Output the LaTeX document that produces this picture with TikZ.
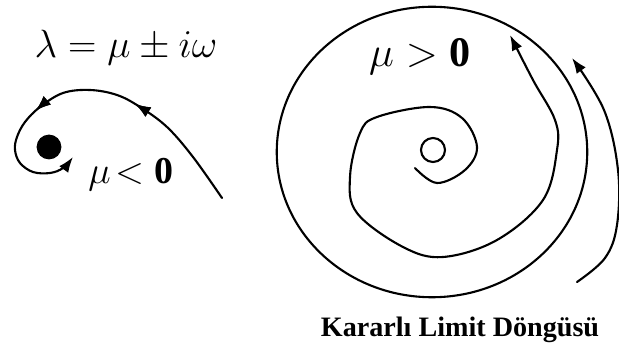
\documentclass[tikz,border=0pt]{standalone}
\usepackage{fix-cm}
\usepackage{fontspec}
\setmainfont{Liberation Serif}
\usepackage{amsmath}
\usetikzlibrary{arrows.meta, decorations.markings}
\tikzset{
    orbit/.style={
        line width=1.5pt,
        line cap=round
    },
    tip/.style={-{Latex[length=11pt,width=8pt]}},
    midtip/.style={
        postaction={decorate},
        decoration={markings,
            mark=at position #1 with {\arrow{Latex[length=11pt,width=8pt]}}}
    },
    formula/.style={font=\fontsize{28}{34}\selectfont},
    mulabel/.style={font=\fontsize{#1}{32}\selectfont},
    mulabel/.default=27,
    caption/.style={font=\fontsize{20}{24}\selectfont\bfseries}
}

\begin{document}
\begin{tikzpicture}[x=0.025cm, y=-0.025cm]
\useasboundingbox (0,0) rectangle (619,353);

% stable focus
\node[formula] (eq) at (126,48) {$\lambda = \mu \pm i\omega$};
\fill (49,147) circle (0.31cm) coordinate (focus);
\draw[orbit, tip, midtip/.list={0.36,0.66}] plot[smooth, tension=0.6] coordinates {
    (222,198) (193,157) (167,127) (140,107) (117,95) (90,90) (63,93)
    (40,107) (25,122) (17,137) (15,150) (20,163) (33,172) (50,173)
    (63,168) (73,157)};
\node[mulabel] (muneg) at (131,175) {$\mu\!<\mathbf{0}$};

% limit cycle
\draw[orbit] (432,152) ellipse [x radius=3.88cm, y radius=3.63cm];
\draw[orbit] (433,150) circle (0.3cm) coordinate (source);
\draw[orbit, tip] plot[smooth, tension=0.6] coordinates {
    (415,168) (437,183) (465,170) (477,147) (462,118) (430,107)
    (377,117) (360,133) (350,177) (357,213) (403,247) (443,257)
    (497,240) (543,200) (557,150) (555,120) (533,80) (510,35)};
\draw[orbit, tip] plot[smooth, tension=0.6] coordinates {
    (577,282) (605,258) (617,225) (618,170) (604,110) (572,58)};
\node[mulabel=30] (mupos) at (420,57) {$\mu > \mathbf{0}$};
\node[caption] (cycle) at (460,330) {Kararlı Limit Döngüsü};
\end{tikzpicture}
\end{document}
